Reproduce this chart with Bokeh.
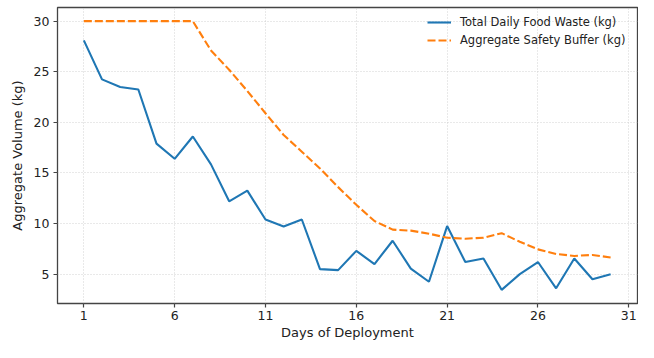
from bokeh.plotting import figure
from bokeh.models import FixedTicker, Range1d, Legend, LegendItem
from bokeh.embed import file_html
from bokeh.resources import INLINE

days = list(range(1, 31))
food_waste = [28.1, 24.25, 23.5, 23.25, 17.9, 16.4, 18.6, 15.85, 12.2, 13.25,
              10.4, 9.7, 10.4, 5.5, 5.4, 7.3, 6.0, 8.3, 5.55, 4.25,
              9.75, 6.2, 6.55, 3.45, 5.0, 6.2, 3.6, 6.55, 4.5, 5.0]
safety_buffer = [30.0, 30.0, 30.0, 30.0, 30.0, 30.0, 30.0, 27.1, 25.2, 23.1,
                 20.9, 18.75, 17.1, 15.45, 13.6, 11.85, 10.25, 9.4, 9.3, 9.0,
                 8.6, 8.5, 8.6, 9.05, 8.2, 7.45, 7.0, 6.8, 6.9, 6.65]
x_ticks = [1, 6, 11, 16, 21, 26, 31]
y_ticks = [5, 10, 15, 20, 25, 30]

FONT = "DejaVu Sans"
SPINE = "#444444"

p = figure(width=638, height=342, output_backend="svg", toolbar_location=None,
           x_range=Range1d(-0.45, 31.48), y_range=Range1d(2.1, 31.35),
           min_border_left=57, min_border_right=1, min_border_top=7,
           min_border_bottom=39)
p.background_fill_color = "white"
p.border_fill_color = "white"
p.outline_line_color = SPINE
p.outline_line_width = 1.3

r1 = p.line(days, food_waste, line_color="#1f77b4", line_width=2.1)
r2 = p.line(days, safety_buffer, line_color="#ff7f0e", line_width=2.1,
            line_dash="8 3")

for ax, ticks in ((p.xaxis, x_ticks), (p.yaxis, y_ticks)):
    ax.ticker = FixedTicker(ticks=ticks)
    ax.axis_line_color = None
    ax.major_tick_line_color = SPINE
    ax.major_tick_line_width = 1.2
    ax.major_tick_out = 4
    ax.major_tick_in = 0
    ax.minor_tick_line_color = None
    ax.major_label_text_font = FONT
    ax.major_label_text_font_size = "12.5px"
    ax.major_label_text_color = "#222222"
    ax.axis_label_text_font = FONT
    ax.axis_label_text_font_size = "13px"
    ax.axis_label_text_font_style = "normal"
    ax.axis_label_text_color = "#222222"

p.xaxis.axis_label = "Days of Deployment"
p.yaxis.axis_label = "Aggregate Volume (kg)"
p.xaxis.major_label_standoff = 3
p.xaxis.axis_label_standoff = 2
p.yaxis.major_label_standoff = 4
p.yaxis.axis_label_standoff = 6

for g in (p.xgrid, p.ygrid):
    g.grid_line_color = "#c8c8c8"
    g.grid_line_dash = "1 2"
    g.grid_line_width = 0.8
p.xgrid.ticker = FixedTicker(ticks=x_ticks)
p.ygrid.ticker = FixedTicker(ticks=y_ticks)

legend = Legend(items=[
    LegendItem(label="Total Daily Food Waste (kg)", renderers=[r1]),
    LegendItem(label="Aggregate Safety Buffer (kg)", renderers=[r2]),
], location=(370, 255))
legend.margin = 0
legend.padding = 0
legend.spacing = 2
legend.glyph_width = 24
legend.glyph_height = 16
legend.label_standoff = 9
legend.label_text_font = FONT
legend.label_text_font_size = "11.5px"
legend.label_text_color = "#222222"
legend.background_fill_alpha = 0
legend.border_line_alpha = 0
p.add_layout(legend)

open("out.html", "w").write(file_html(p, INLINE))
